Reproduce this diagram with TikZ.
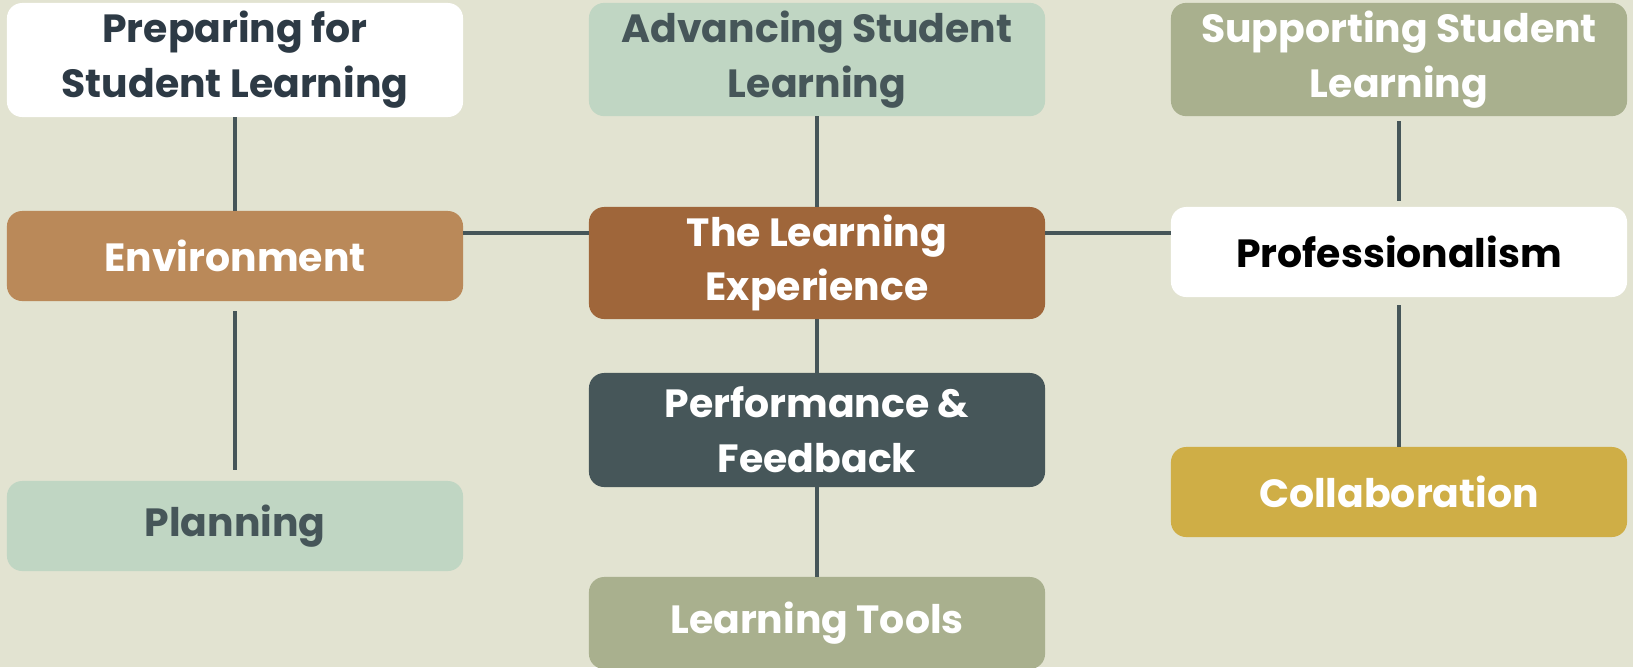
\documentclass[tikz,border=0pt]{standalone}
\usepackage{fontspec}
\setmainfont{Poppins}
\usepackage{tikz}

\definecolor{bgcol}{HTML}{E2E3D1}
\definecolor{inkcol}{HTML}{2D3A45}
\definecolor{slatecol}{HTML}{465659}
\definecolor{mintcol}{HTML}{C0D6C3}
\definecolor{sagecol}{HTML}{A9B08E}
\definecolor{tancol}{HTML}{BA8959}
\definecolor{rustcol}{HTML}{9F663A}
\definecolor{goldcol}{HTML}{CFAE46}

\tikzset{
  card/.style={rectangle,rounded corners=0.38cm,minimum width=11.4cm,
    align=center,font=\fontsize{28}{39}\selectfont\bfseries,inner sep=0pt},
  link/.style={draw=slatecol,line width=3pt}
}

\begin{document}
\begin{tikzpicture}[x=0.025cm,y=-0.025cm]
\fill[bgcol] (0,0) rectangle (1633,667);
\useasboundingbox (0,0) rectangle (1633,667);
% left column
\node[card,fill=white,text=inkcol,minimum height=2.85cm] (prep) at (235,60) {Preparing for\\Student Learning};
\node[card,fill=tancol,text=white,minimum height=2.25cm] (env) at (235,256) {Environment};
\node[card,fill=mintcol,text=slatecol,minimum height=2.25cm] (plan) at (235,526) {Planning};
% middle column
\node[card,fill=mintcol,text=slatecol,minimum height=2.83cm] (adv) at (817,59.5) {Advancing Student\\Learning};
\node[card,fill=rustcol,text=white,minimum height=2.8cm] (exp) at (817,263) {The Learning\\Experience};
\node[card,fill=slatecol,text=white,minimum height=2.85cm] (perf) at (817,430) {Performance \&\\Feedback};
\node[card,fill=sagecol,text=white,minimum height=2.3cm] (tools) at (817,623) {Learning Tools};
% right column
\node[card,fill=sagecol,text=white,minimum height=2.83cm] (supp) at (1399,59.5) {Supporting Student\\Learning};
\node[card,fill=white,text=black,minimum height=2.25cm] (prof) at (1399,252) {Professionalism};
\node[card,fill=goldcol,text=white,minimum height=2.25cm] (collab) at (1399,492) {Collaboration};
% connectors
\draw[link] (prep) -- (env);
\draw[link,shorten <=0.25cm,shorten >=0.28cm] (env) -- (plan);
\draw[link] (adv) -- (exp);
\draw[link] (exp) -- (perf);
\draw[link] (perf) -- (tools);
\draw[link,shorten <=0.12cm,shorten >=0.15cm] (supp) -- (prof);
\draw[link,shorten <=0.2cm] (prof) -- (collab);
\draw[link] ([yshift=0.575cm]env.east) -- ([yshift=0.575cm]env.east -| exp.west);
\draw[link] ([yshift=0.75cm]exp.east) -- ([yshift=0.75cm]exp.east -| prof.west);
\end{tikzpicture}
\end{document}
